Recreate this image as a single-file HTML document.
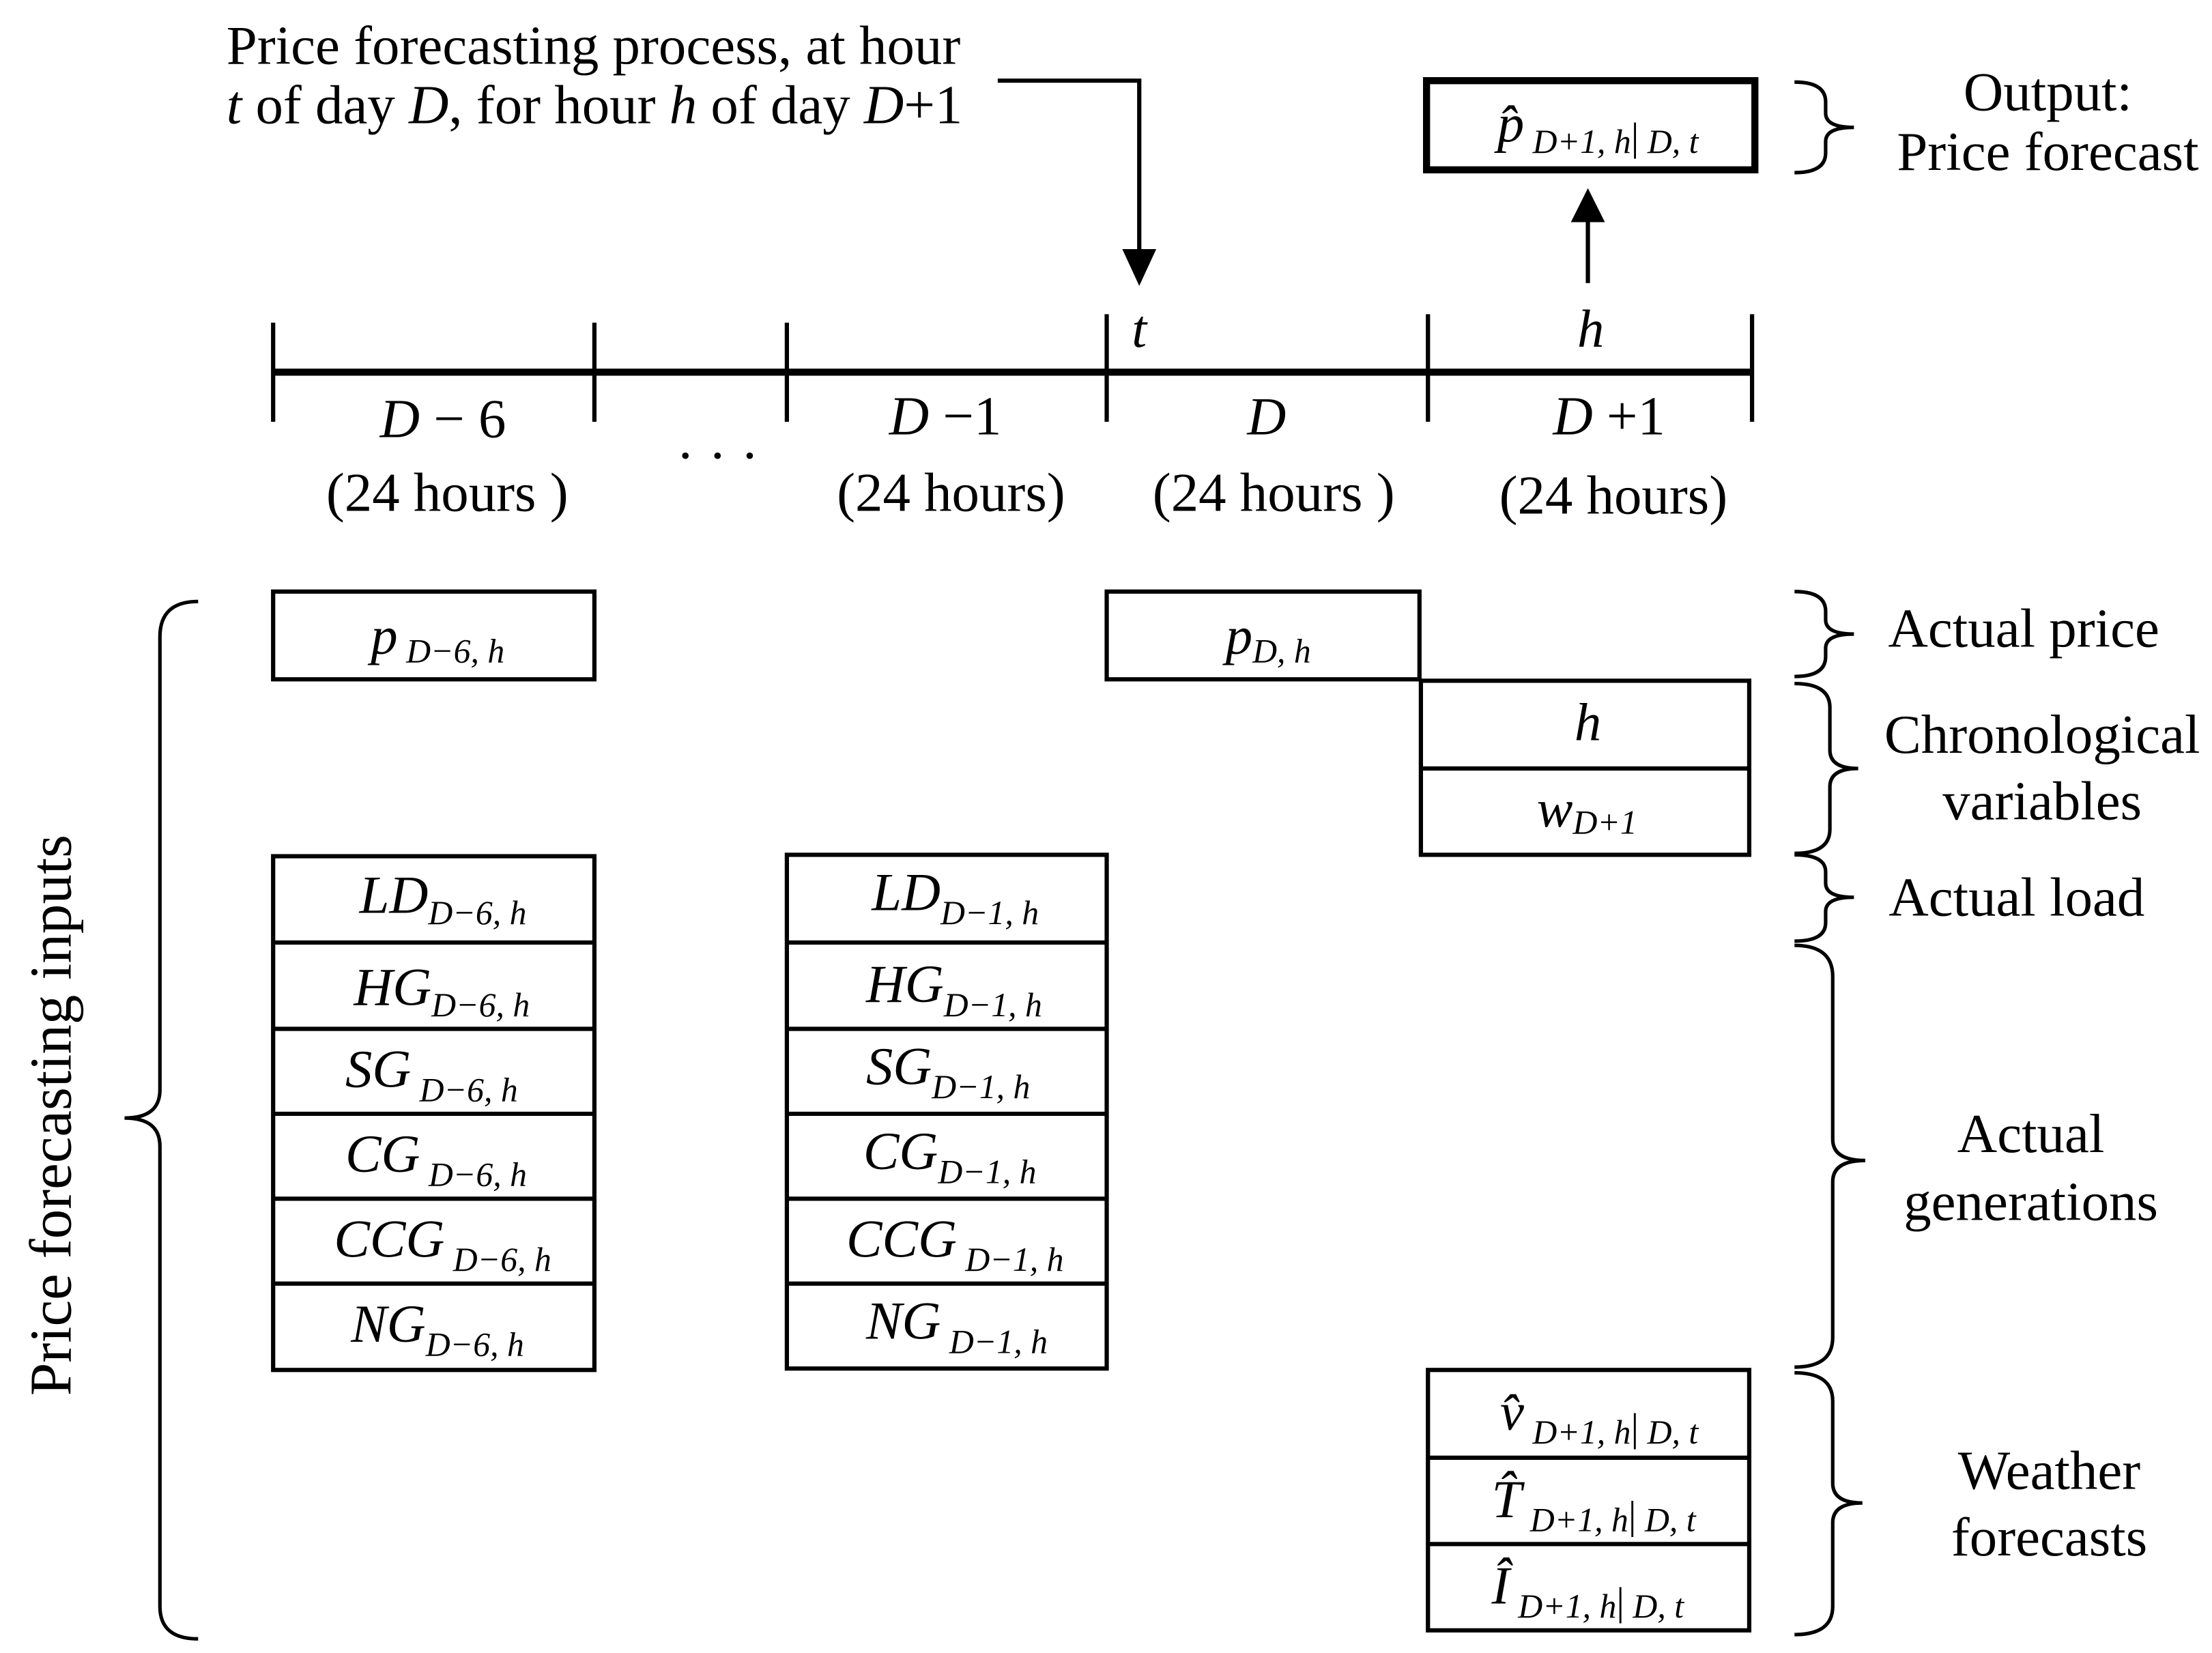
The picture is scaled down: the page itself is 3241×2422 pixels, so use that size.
<!DOCTYPE html>
<html><head><meta charset="utf-8"><style>
html,body{margin:0;padding:0;background:#fff;}
svg{display:block;}
text{font-family:"Liberation Serif",serif;fill:#000;}
.m{font-style:italic;font-size:38px;}
.s{font-size:24px;font-style:italic;}
.n{font-size:39px;}
</style></head><body>
<svg width="3241" height="2422" viewBox="0 0 1563 1168" preserveAspectRatio="none" xmlns="http://www.w3.org/2000/svg">
<rect width="1563" height="1168" fill="#fff"/>
<g stroke="#000" fill="none">
<line x1="193" y1="263" x2="1238" y2="263" stroke-width="5"/>
<g stroke-width="3">
<line x1="193" y1="228" x2="193" y2="298"/><line x1="420" y1="228" x2="420" y2="298"/>
<line x1="556" y1="228" x2="556" y2="298"/><line x1="782" y1="222" x2="782" y2="298"/>
<line x1="1009" y1="222" x2="1009" y2="298"/><line x1="1238" y1="222" x2="1238" y2="298"/>
</g>
<polyline points="705,57 805,57 805,180" stroke-width="3"/>
<line x1="1122" y1="200" x2="1122" y2="155" stroke-width="3"/>
<rect x="1008" y="57" width="232" height="63" stroke-width="5"/>
<g stroke-width="3">
<rect x="193" y="418" width="227" height="62"/>
<rect x="782" y="418" width="221" height="62"/>
<rect x="1004" y="481" width="232" height="123"/><line x1="1004" y1="543" x2="1236" y2="543"/>
<rect x="193" y="605" width="227" height="363"/>
<line x1="193" y1="666" x2="420" y2="666"/><line x1="193" y1="727" x2="420" y2="727"/>
<line x1="193" y1="787" x2="420" y2="787"/><line x1="193" y1="847" x2="420" y2="847"/>
<line x1="193" y1="907" x2="420" y2="907"/>
<rect x="556" y="604" width="226" height="363"/>
<line x1="556" y1="666" x2="782" y2="666"/><line x1="556" y1="727" x2="782" y2="727"/>
<line x1="556" y1="787" x2="782" y2="787"/><line x1="556" y1="847" x2="782" y2="847"/>
<line x1="556" y1="907" x2="782" y2="907"/>
<rect x="1009" y="968" width="227" height="184"/>
<line x1="1009" y1="1030" x2="1236" y2="1030"/><line x1="1009" y1="1091" x2="1236" y2="1091"/>
</g>
<g stroke-width="2.5">
<path d="M1268,58 Q1290,58 1290,72 L1290,80 Q1290,90 1310,90 Q1290,90 1290,100 L1290,108 Q1290,122 1268,122"/>
<path d="M1268,418 Q1290,418 1290,432 L1290,438 Q1290,448 1310,448 Q1290,448 1290,458 L1290,464 Q1290,478 1268,478"/>
<path d="M1268,483 Q1293,483 1293,500 L1293,530 Q1293,543 1313,543 Q1293,543 1293,556 L1293,586 Q1293,603 1268,603"/>
<path d="M1268,604 Q1290,604 1290,616 L1290,624 Q1290,634 1310,634 Q1290,634 1290,644 L1290,652 Q1290,665 1268,665"/>
<path d="M1268,668 Q1295,668 1295,690 L1295,805 Q1295,820 1318,820 Q1295,820 1295,835 L1295,945 Q1295,966 1268,966"/>
<path d="M1268,970 Q1295,970 1295,990 L1295,1048 Q1295,1062 1316,1062 Q1295,1062 1295,1076 L1295,1135 Q1295,1155 1268,1155"/>
<path d="M140,425 Q113,425 113,450 L113,770 Q113,790 88,790 Q113,790 113,810 L113,1135 Q113,1158 140,1158"/>
</g>
</g>
<polygon points="793,176 817,176 805,202" fill="#000"/>
<polygon points="1110,157 1134,157 1122,133" fill="#000"/>
<text x="160" y="45" class="n">Price forecasting process, at hour</text>
<text x="160" y="87" class="n"><tspan font-style="italic">t</tspan> of day <tspan font-style="italic">D</tspan>, for hour <tspan font-style="italic">h</tspan> of day <tspan font-style="italic">D</tspan>+1</text>
<text x="1058" y="100" class="m">p̂<tspan class="s" dy="8"> D+1, h</tspan><tspan font-size="28" font-style="normal" dy="-2">|</tspan><tspan class="s" dy="2"> D, t</tspan></text>
<text x="1447" y="78" class="n" text-anchor="middle">Output:</text>
<text x="1447" y="120" class="n" text-anchor="middle">Price forecast</text>
<text x="805" y="245" class="m" text-anchor="middle">t</text>
<text x="1124" y="245" class="m" text-anchor="middle">h</text>
<g text-anchor="middle">
<text x="313" y="309" class="n"><tspan font-style="italic">D</tspan> − 6</text>
<text x="668" y="307" class="n"><tspan font-style="italic">D</tspan> −1</text>
<text x="895" y="307" class="m">D</text>
<text x="1137" y="307" class="n"><tspan font-style="italic">D</tspan> +1</text>
<text x="316" y="361" class="n">(24  hours )</text>
<text x="672" y="361" class="n">(24 hours)</text>
<text x="900" y="361" class="n">(24  hours )</text>
<text x="1140" y="363" class="n">(24 hours)</text>
<text x="507" y="335" class="n">· · ·</text>
<text x="1430" y="457" class="n">Actual price</text>
<text x="1443" y="532" class="n">Chronological</text>
<text x="1443" y="579" class="n">variables</text>
<text x="1425" y="647" class="n">Actual load</text>
<text x="1435" y="814" class="n">Actual</text>
<text x="1435" y="862" class="n">generations</text>
<text x="1448" y="1052" class="n">Weather</text>
<text x="1448" y="1099" class="n">forecasts</text>
</g>
<text x="0" y="0" font-size="42" text-anchor="middle" transform="translate(50,788) rotate(-90)">Price forecasting inputs</text>
<text x="262" y="462" class="m">p<tspan class="s" dy="6"> D−6, h</tspan></text>
<text x="866" y="462" class="m">p<tspan class="s" dy="6">D, h</tspan></text>
<text x="1122" y="523" class="m" text-anchor="middle">h</text>
<text x="1086" y="584" class="m" font-size="32">w<tspan class="s" dy="5">D+1</tspan></text>
<g class="m">
<text x="254" y="645">LD<tspan class="s" dy="8">D−6, h</tspan></text>
<text x="250" y="710">HG<tspan class="s" dy="8">D−6, h</tspan></text>
<text x="244" y="768">SG<tspan class="s" dy="10"> D−6, h</tspan></text>
<text x="244" y="828">CG<tspan class="s" dy="10"> D−6, h</tspan></text>
<text x="236" y="888">CCG<tspan class="s" dy="10"> D−6, h</tspan></text>
<text x="248" y="948">NG<tspan class="s" dy="10">D−6, h</tspan></text>
<text x="616" y="643">LD<tspan class="s" dy="10">D−1, h</tspan></text>
<text x="612" y="708">HG<tspan class="s" dy="10">D−1, h</tspan></text>
<text x="612" y="766">SG<tspan class="s" dy="10">D−1, h</tspan></text>
<text x="610" y="826">CG<tspan class="s" dy="10">D−1, h</tspan></text>
<text x="598" y="888">CCG<tspan class="s" dy="10"> D−1, h</tspan></text>
<text x="612" y="946">NG<tspan class="s" dy="10"> D−1, h</tspan></text>
<text x="1060" y="1010">v̂<tspan class="s" dy="10"> D+1, h</tspan><tspan font-size="28" font-style="normal" dy="-2">|</tspan><tspan class="s" dy="2"> D, t</tspan></text>
<text x="1054" y="1072">T̂<tspan class="s" dy="10"> D+1, h</tspan><tspan font-size="28" font-style="normal" dy="-2">|</tspan><tspan class="s" dy="2"> D, t</tspan></text>
<text x="1054" y="1133">Î<tspan class="s" dy="10">  D+1, h</tspan><tspan font-size="28" font-style="normal" dy="-2">|</tspan><tspan class="s" dy="2"> D, t</tspan></text>
</g>
</svg>
</body></html>
